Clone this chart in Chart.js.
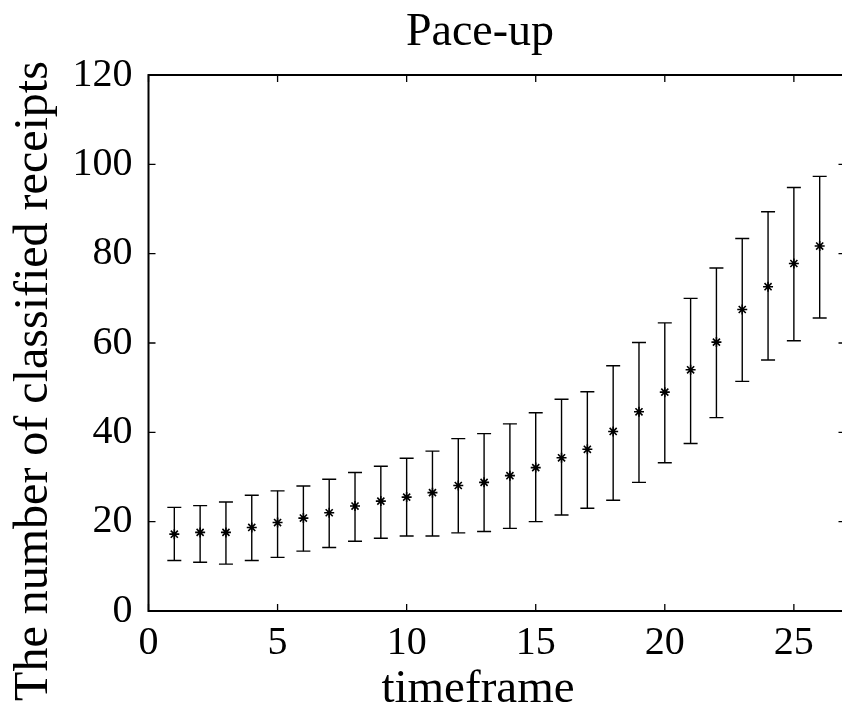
<!DOCTYPE html>
<html>
<head>
<meta charset="utf-8">
<script src="https://cdn.jsdelivr.net/npm/chart.js@4/dist/chart.umd.min.js"></script>
<style>
html,body{margin:0;padding:0;background:#fff;overflow:hidden;}
#wrap{width:850px;height:712px;}
</style>
</head>
<body>
<div id="wrap"><canvas id="c" width="850" height="712"></canvas></div>
<script>
// ---- data ----
const timeframe = [1,2,3,4,5,6,7,8,9,10,11,12,13,14,15,16,17,18,19,20,21,22,23,24,25,26];
const meanVals  = [17.2,17.6,17.6,18.7,19.8,20.8,22.0,23.5,24.6,25.5,26.5,28.1,28.8,30.3,32.1,34.3,36.2,40.2,44.6,49.0,54.0,60.2,67.5,72.6,77.8,81.7];
const upperVals = [23.2,23.6,24.4,25.9,26.9,28.0,29.5,31.0,32.4,34.2,35.8,38.6,39.7,41.9,44.4,47.4,49.1,54.9,60.1,64.5,70.0,76.8,83.4,89.4,94.8,97.3];
const lowerVals = [11.3,10.9,10.5,11.3,12.0,13.4,14.2,15.6,16.3,16.8,16.8,17.5,17.8,18.5,20.0,21.5,23.0,24.8,28.8,33.2,37.5,43.3,51.4,56.2,60.5,65.6];
const xTicks = [0,5,10,15,20,25];
const yTicks = [0,20,40,60,80,100,120];
const titleText = 'Pace-up';
const xLabel = 'timeframe';
const yLabel = 'The number of classified receipts';

// ---- derived datasets ----
const segPts = [];
timeframe.forEach((x,i)=>{
  segPts.push({x:x,y:lowerVals[i]});
  segPts.push({x:x,y:upperVals[i]});
  segPts.push({x:x,y:null});
});
const capPts = [];
timeframe.forEach((x,i)=>{
  capPts.push({x:x,y:lowerVals[i]});
  capPts.push({x:x,y:upperVals[i]});
});
const meanPts = timeframe.map((x,i)=>({x:x,y:meanVals[i]}));

const FONT = '"Liberation Serif", "Times New Roman", serif';

const decor = {
  id:'decor',
  afterDraw(chart){
    const ctx = chart.ctx, a = chart.chartArea;
    const xs = chart.scales.x, ys = chart.scales.y;
    ctx.save();
    ctx.strokeStyle = '#000';
    ctx.lineWidth = 2;
    ctx.strokeRect(a.left, a.top, a.right - a.left, a.bottom - a.top);
    ctx.lineWidth = 1.3;
    const tl = 7;
    ctx.beginPath();
    xTicks.forEach(v=>{
      const px = xs.getPixelForValue(v);
      ctx.moveTo(px, a.bottom); ctx.lineTo(px, a.bottom - tl);
      ctx.moveTo(px, a.top); ctx.lineTo(px, a.top + tl);
    });
    yTicks.forEach(v=>{
      const py = ys.getPixelForValue(v);
      ctx.moveTo(a.left, py); ctx.lineTo(a.left + tl, py);
      ctx.moveTo(a.right, py); ctx.lineTo(a.right - tl, py);
    });
    ctx.stroke();
    ctx.fillStyle = '#000';
    ctx.textAlign = 'center';
    ctx.textBaseline = 'alphabetic';
    ctx.font = '46px ' + FONT;
    ctx.fillText(titleText, 480, 45);
    ctx.font = '47px ' + FONT;
    ctx.fillText(xLabel, 478, 702);
    ctx.font = '48px ' + FONT;
    ctx.translate(47, 381);
    ctx.rotate(-Math.PI/2);
    ctx.fillText(yLabel, 0, 0);
    ctx.restore();
  }
};

new Chart(document.getElementById('c'), {
  type:'scatter',
  data:{
    datasets:[
      {type:'line', data:segPts, borderColor:'#000', borderWidth:1.4, pointRadius:0, spanGaps:false, fill:false, tension:0},
      {type:'scatter', data:capPts, pointStyle:'line', pointRadius:7, borderColor:'#000', borderWidth:1.4, backgroundColor:'#000'},
      {type:'scatter', data:meanPts, pointStyle:'star', pointRadius:5, borderColor:'#000', borderWidth:1.6, backgroundColor:'#000'}
    ]
  },
  options:{
    responsive:false,
    animation:false,
    events:[],
    layout:{autoPadding:false, padding:{top:75,right:4.5,left:0,bottom:0}},
    plugins:{legend:{display:false},tooltip:{enabled:false},title:{display:false}},
    scales:{
      x:{
        type:'linear', min:0, max:27,
        grid:{display:false}, border:{display:false},
        afterFit(s){ s.height = 101; s.paddingLeft = 0; s.paddingRight = 0; },
        afterBuildTicks(s){ s.ticks = xTicks.map(v=>({value:v})); },
        ticks:{includeBounds:false, padding:0, color:'#000', font:{family:FONT, size:40}, maxRotation:0, autoSkip:false}
      },
      y:{
        type:'linear', min:0, max:120,
        grid:{display:false}, border:{display:false},
        afterFit(s){ s.width = 148.5; s.paddingTop = 0; s.paddingBottom = 0; },
        afterBuildTicks(s){ s.ticks = yTicks.map(v=>({value:v})); },
        ticks:{padding:8, color:'#000', font:{family:FONT, size:40}}
      }
    }
  },
  plugins:[decor]
});
</script>
</body>
</html>
